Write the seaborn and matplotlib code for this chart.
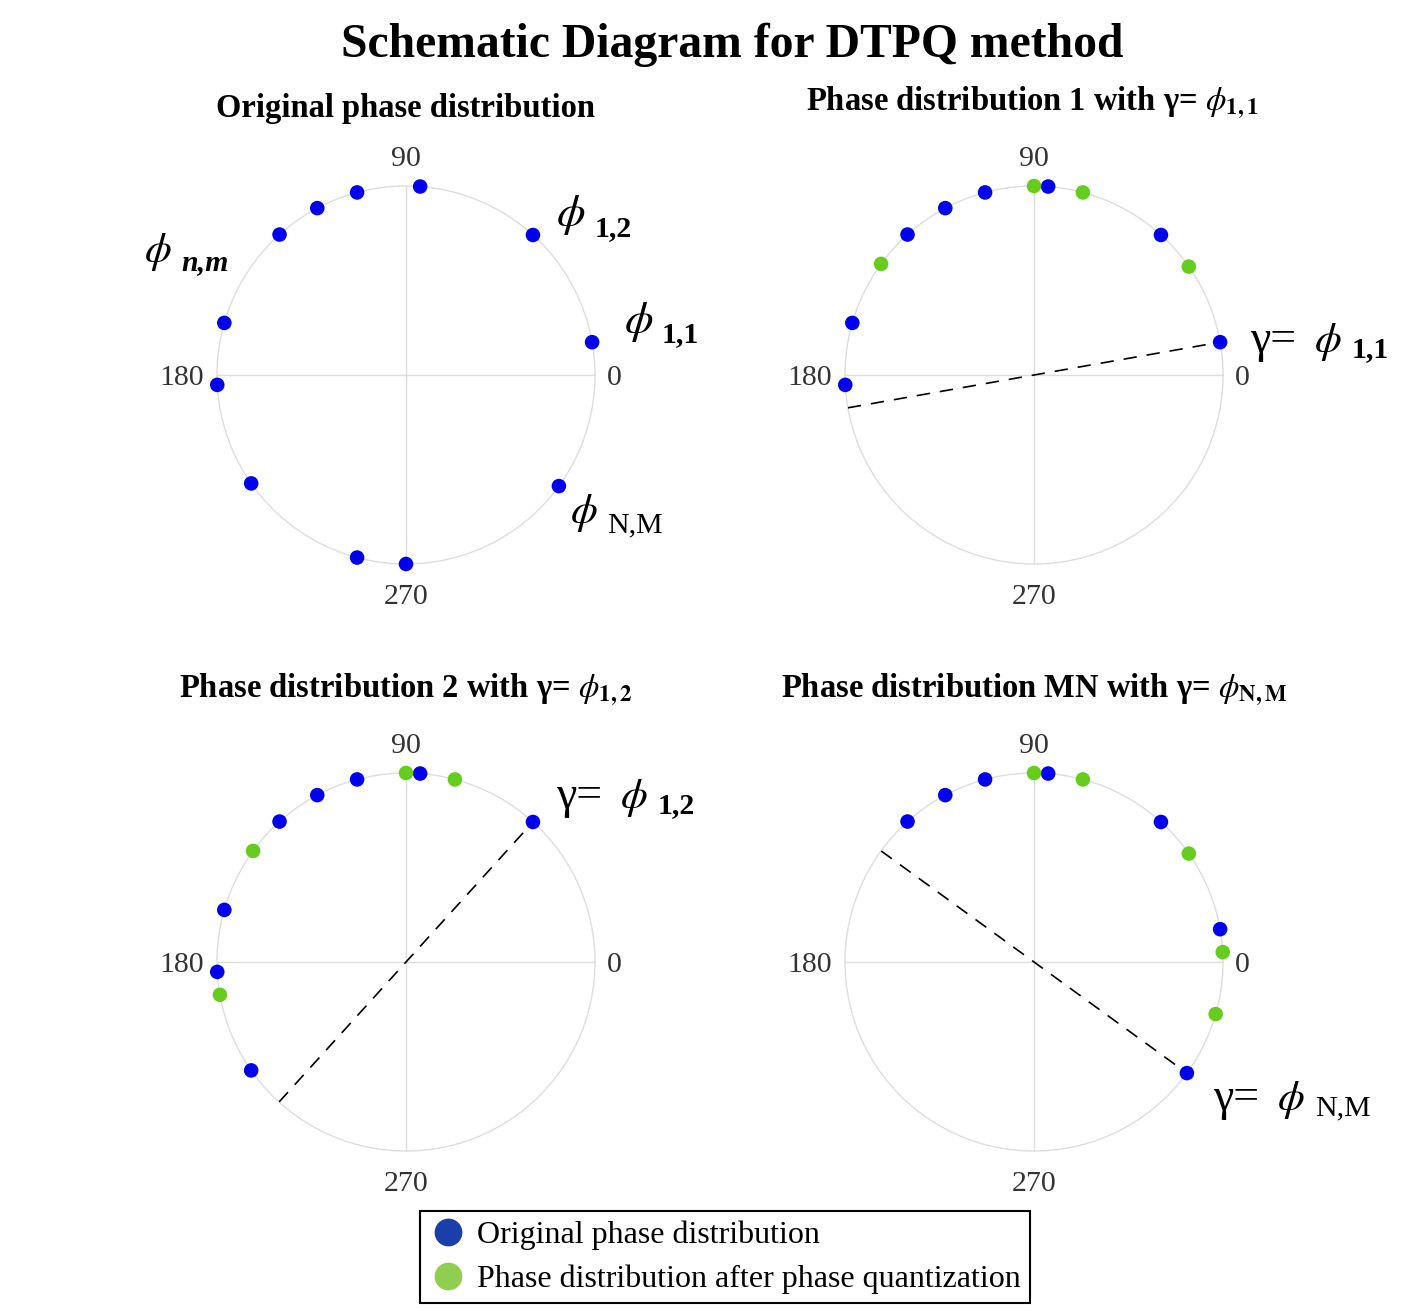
import numpy as np
import pandas as pd
import matplotlib.pyplot as plt
import seaborn as sns
from matplotlib.lines import Line2D

# Phase values (degrees)
orig_phase = [10, 47.8, 85.7, 105, 118, 132, 164, 183, 215, 255, 270, 324]

p1_orig = [10, 47.8, 85.7, 105, 118, 132, 164, 183]
p1_quant = [35, 75, 90, 144]

p2_orig = [47.8, 85.7, 105, 118, 132, 164, 183, 215]
p2_quant = [75, 90, 144, 190]

pmn_orig = [324, 10, 47.8, 85.7, 105, 118, 132]
pmn_quant = [344, 3, 35, 75, 90]

gammas = [None, 10, 47.8, 324]

tick_angles = [0, 90, 180, 270]
tick_labels = ["0", "90", "180", "270"]

titles = [
    "Original phase distribution",
    r"Phase distribution 1 with γ= $\phi_{\mathbf{1,1}}$",
    r"Phase distribution 2 with γ= $\phi_{\mathbf{1,2}}$",
    r"Phase distribution MN with γ= $\phi_{\mathbf{N,M}}$",
]

legend_labels = ["Original phase distribution", "Phase distribution after phase quantization"]

blue = "#0000ee"
green = "#66cc1e"

sns.set_theme(style="white")
plt.rcParams['font.family'] = ['Liberation Serif', 'DejaVu Serif']
plt.rcParams['mathtext.fontset'] = 'stix'
plt.rcParams['text.color'] = 'black'

W, H = 1428, 1314
R = 189
fig = plt.figure(figsize=(W / 100, H / 100), dpi=100)


def fx(x):
    return x / W


def fy(y):
    return 1 - y / H


centers = [(406, 375), (1034, 375), (406, 962), (1034, 962)]
title_pos = [(405, 117), (1032, 110), (405, 697), (1034, 697)]

panels = [
    (orig_phase, []),
    (p1_orig, p1_quant),
    (p2_orig, p2_quant),
    (pmn_orig, pmn_quant),
]

# alignment and padding of the 0 / 90 / 180 / 270 labels
label_align = [('left', 'center_baseline', -4.7), ('center', 'bottom', -3),
               ('right', 'center_baseline', -3.7), ('center', 'top', 1.6)]

for i, ((cx, cy), (po, pq)) in enumerate(zip(centers, panels)):
    ax = fig.add_axes([(cx - R) / W, (H - cy - R) / H, 2 * R / W, 2 * R / H],
                      projection='polar')
    df = pd.DataFrame({
        'theta': np.deg2rad(po + pq),
        'r': 1.0,
        'kind': ['orig'] * len(po) + ['quant'] * len(pq),
    })
    sns.scatterplot(data=df, x='theta', y='r', hue='kind',
                    palette={'orig': blue, 'quant': green},
                    s=110, edgecolor='none', clip_on=False, legend=False,
                    zorder=5, ax=ax)
    g = gammas[i]
    if g is not None:
        ax.plot(np.deg2rad([g + 180, g + 180, g, g]), [1, 0, 0, 1],
                color='black', lw=1.2, dashes=(8, 6), zorder=4)
    ax.set_ylim(0, 1)
    ax.set_yticks([])
    ax.set_thetagrids(tick_angles, tick_labels)
    ax.tick_params(axis='x', labelsize=21.5, labelcolor='#333333')
    ticks = ax.xaxis.get_major_ticks()
    for tick, (ha, va, pad) in zip(ticks, label_align):
        tick.set_pad(pad)
        tick.label1.set_ha(ha)
        tick.label1.set_va(va)
    ax.grid(True, color='#dddddd', lw=1)
    ax.spines['polar'].set_color('#dddddd')
    ax.spines['polar'].set_linewidth(1)
    ax.set_xlabel('')
    ax.set_ylabel('')
    tx, ty = title_pos[i]
    fig.text(fx(tx), fy(ty), titles[i], ha='center', va='baseline',
             fontsize=23.5, fontweight='bold')

fig.text(fx(732), fy(57), "Schematic Diagram for DTPQ method", ha='center',
         va='baseline', fontsize=34.3, fontweight='bold')

# phase annotations: (prefix x, prefix baseline, phi x, phi centre y, phi size,
#                     sub x, sub baseline, sub text, sub weight, sub style)
notes = [
    (None, None, 556, 215, 33, 595, 236, "1,2", 'bold', 'normal'),
    (None, None, 624, 322, 33, 662, 342, "1,1", 'bold', 'normal'),
    (None, None, 144, 252, 31, 181, 270, "n,m", 'bold', 'italic'),
    (None, None, 570, 513, 31, 607, 532, "N,M", 'normal', 'normal'),
    (1250, 352, 1314, 342, 31, 1352, 357, "1,1", 'bold', 'normal'),
    (556, 808, 620, 798, 31, 658, 813, "1,2", 'bold', 'normal'),
    (1213, 1110, 1277, 1100, 31, 1315, 1115, "N,M", 'normal', 'normal'),
]
for px, pb, phx, phy, phs, sx, sb, sub, sw, ss in notes:
    if px is not None:
        fig.text(fx(px), fy(pb), "γ=", ha='left', va='baseline', fontsize=33)
    fig.text(fx(phx), fy(phy), r"$\phi$", ha='left', va='center', fontsize=phs)
    fig.text(fx(sx), fy(sb), sub, ha='left', va='baseline', fontsize=21.5,
             fontweight=sw, fontstyle=ss)

handles = [
    Line2D([], [], marker='o', ls='none', markersize=20,
           markerfacecolor='#1a3faa', markeredgecolor='none'),
    Line2D([], [], marker='o', ls='none', markersize=20,
           markerfacecolor='#8fce50', markeredgecolor='none'),
]
leg = fig.legend(handles, legend_labels, loc='center',
                 bbox_to_anchor=(fx(725), fy(1257)), frameon=True,
                 fancybox=False, edgecolor='black', framealpha=1,
                 fontsize=23, handletextpad=0.3, labelspacing=0.45,
                 borderpad=0.3, handlelength=1.2, borderaxespad=0)
leg.get_frame().set_linewidth(1.5)

fig.savefig("out.png", dpi=100)
plt.close(fig)
